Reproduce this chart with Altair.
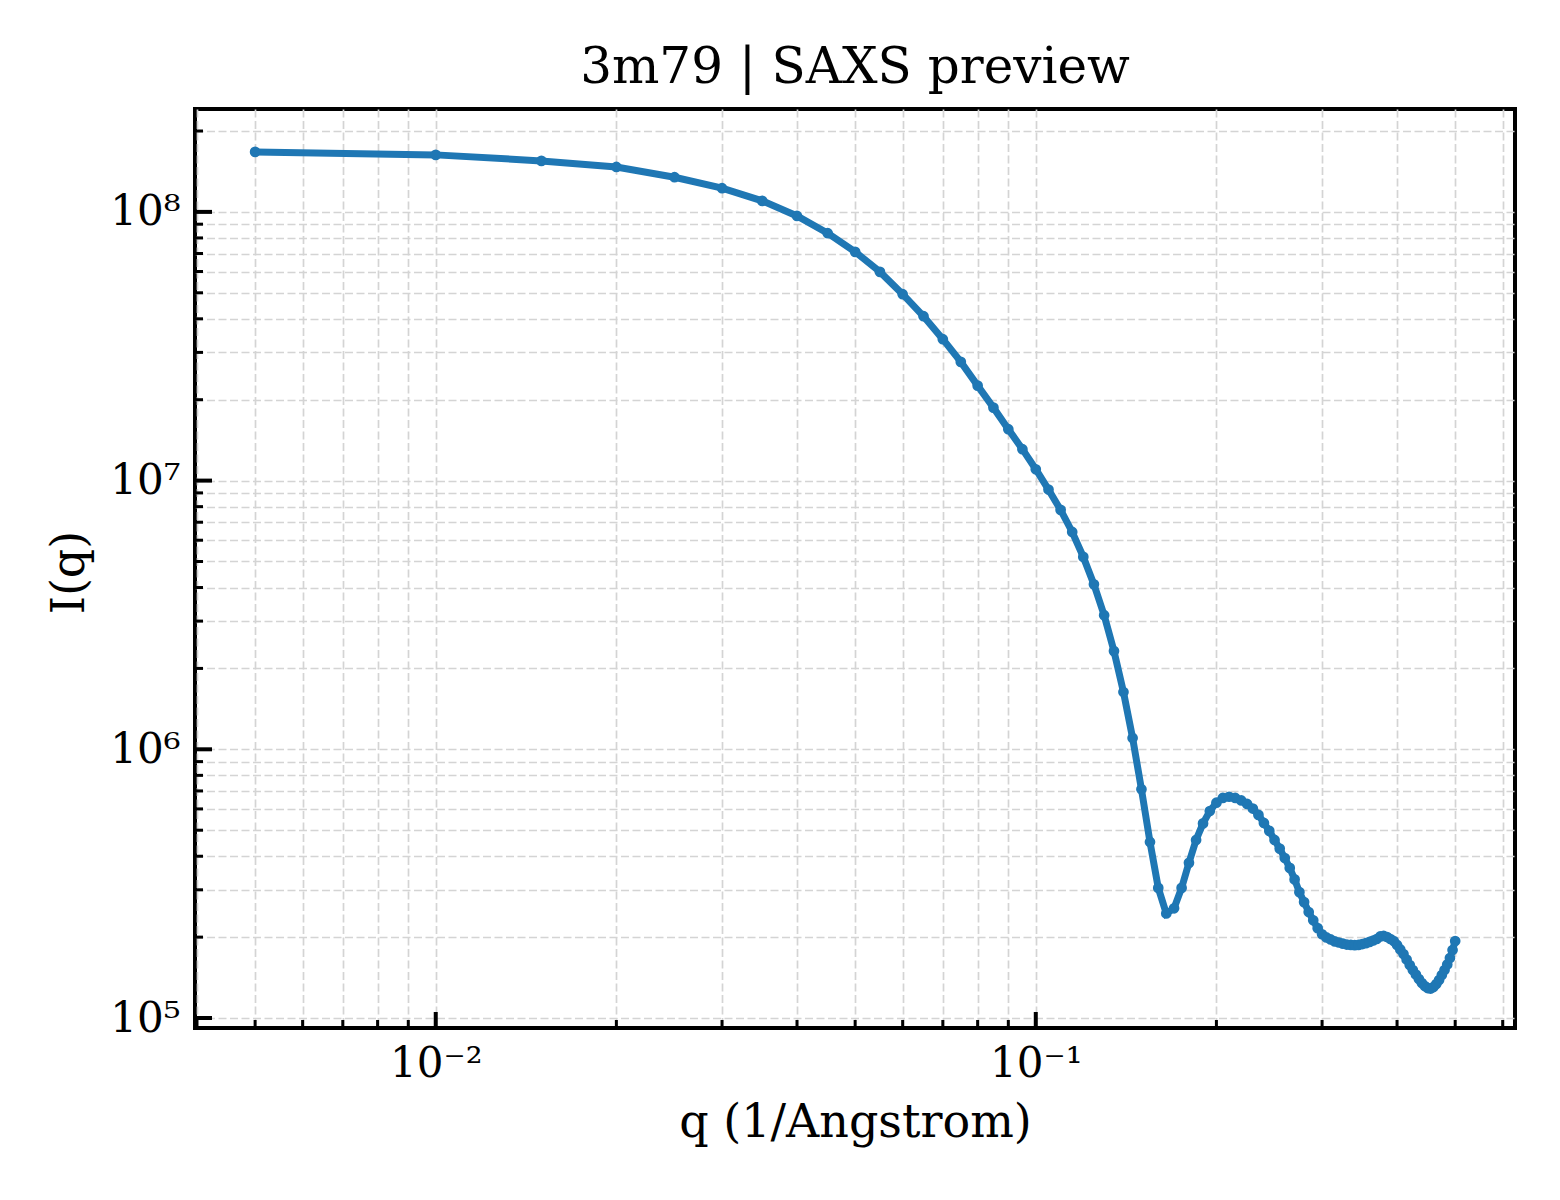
import altair as alt
import pandas as pd

# q grid (1/Angstrom)
q_plateau = [0.005, 0.01, 0.015, 0.02, 0.025, 0.03, 0.035, 0.04, 0.045, 0.05]
q_decay = [0.055, 0.06, 0.065, 0.07, 0.075, 0.08, 0.085, 0.09, 0.095, 0.1,
           0.105, 0.11, 0.115, 0.12, 0.125, 0.13, 0.135, 0.14, 0.145, 0.15,
           0.155, 0.16]
q_ring = [0.165, 0.17, 0.175, 0.18, 0.185, 0.19, 0.195, 0.2, 0.205, 0.21,
          0.215, 0.22, 0.225, 0.23, 0.235, 0.24, 0.245, 0.25, 0.255, 0.26,
          0.265, 0.27, 0.275, 0.28, 0.285, 0.29, 0.295, 0.3]
q_tail = [0.305, 0.31, 0.315, 0.32, 0.325, 0.33, 0.335, 0.34, 0.345, 0.35,
          0.355, 0.36, 0.365, 0.37, 0.375, 0.38, 0.385, 0.39, 0.395, 0.4,
          0.405, 0.41, 0.415, 0.42, 0.425, 0.43, 0.435, 0.44, 0.445, 0.45,
          0.455, 0.46, 0.465, 0.47, 0.475, 0.48, 0.485, 0.49, 0.495, 0.5]

# I(q)
i_plateau = [1.672e8, 1.630e8, 1.548e8, 1.470e8, 1.346e8, 1.225e8, 1.099e8,
             9.66e7, 8.33e7, 7.10e7]
i_decay = [5.98e7, 4.94e7, 4.09e7, 3.36e7, 2.765e7, 2.257e7, 1.869e7, 1.553e7,
           1.309e7, 1.102e7, 9.26e6, 7.78e6, 6.44e6, 5.20e6, 4.11e6, 3.155e6,
           2.32e6, 1.634e6, 1.102e6, 7.10e5, 4.52e5, 3.05e5]
i_ring = [2.45e5, 2.56e5, 3.05e5, 3.78e5, 4.60e5, 5.30e5, 5.89e5, 6.33e5,
          6.59e5, 6.66e5, 6.59e5, 6.45e5, 6.26e5, 6.02e5, 5.70e5, 5.32e5,
          4.97e5, 4.60e5, 4.27e5, 3.94e5, 3.62e5, 3.28e5, 2.94e5, 2.70e5,
          2.48e5, 2.31e5, 2.16e5, 2.05e5]
i_tail = [1.994e5, 1.96e5, 1.927e5, 1.91e5, 1.89e5, 1.877e5, 1.87e5, 1.867e5,
          1.87e5, 1.885e5, 1.90e5, 1.92e5, 1.943e5, 1.968e5, 2.011e5, 2.020e5,
          2.002e5, 1.968e5, 1.934e5, 1.870e5, 1.799e5, 1.730e5, 1.651e5,
          1.575e5, 1.509e5, 1.452e5, 1.397e5, 1.350e5, 1.315e5, 1.293e5,
          1.287e5, 1.304e5, 1.338e5, 1.385e5, 1.445e5, 1.509e5, 1.582e5,
          1.672e5, 1.791e5, 1.934e5]

x_major = [0.01, 0.1]
x_minor = [0.004, 0.005, 0.006, 0.007, 0.008, 0.009,
           0.02, 0.03, 0.04, 0.05, 0.06, 0.07, 0.08, 0.09,
           0.2, 0.3, 0.4, 0.5, 0.6]
y_major = [1e5, 1e6, 1e7, 1e8]
y_minor = [2e5, 3e5, 4e5, 5e5, 6e5, 7e5, 8e5, 9e5,
           2e6, 3e6, 4e6, 5e6, 6e6, 7e6, 8e6, 9e6,
           2e7, 3e7, 4e7, 5e7, 6e7, 7e7, 8e7, 9e7,
           2e8]

W, H = 1320, 919
FONT = "DejaVu Serif"
BLUE = "#1f77b4"

df = pd.DataFrame({
    "q": q_plateau + q_decay + q_ring + q_tail,
    "I": i_plateau + i_decay + i_ring + i_tail,
})

x_enc = alt.X(
    "q:Q",
    title="q (1/Angstrom)",
    scale=alt.Scale(type="log", domain=[0.00397, 0.629], nice=False),
    axis=alt.Axis(
        values=sorted(x_major + x_minor),
        labelExpr="datum.value == 0.01 ? '10⁻²' : datum.value == 0.1 ? '10⁻¹' : ''",
        ticks=False, domain=False, grid=True,
        labelPadding=48, labelBaseline="alphabetic",
        labelFlush=False, labelOverlap=False,
        titleX=W / 2, titleY=108, titleBaseline="alphabetic",
    ),
)
y_enc = alt.Y(
    "I:Q",
    title="I(q)",
    scale=alt.Scale(type="log", domain=[9.18e4, 2.415e8], nice=False),
    axis=alt.Axis(
        values=sorted(y_major + y_minor),
        labelExpr="datum.value == 1e5 ? '10⁵' : datum.value == 1e6 ? '10⁶' : "
                  "datum.value == 1e7 ? '10⁷' : datum.value == 1e8 ? '10⁸' : ''",
        ticks=False, domain=False, grid=True,
        labelPadding=15, labelBaseline="middle",
        labelOverlap=False,
        titleX=-112, titleY=463, titleAngle=270,
        titleBaseline="alphabetic", titleAlign="center",
    ),
)

line = alt.Chart(df).mark_line(color=BLUE, strokeWidth=7).encode(x=x_enc, y=y_enc)
dots = alt.Chart(df).mark_circle(color=BLUE, size=115, opacity=1).encode(x=x_enc, y=y_enc)

# inward ticks, like matplotlib direction="in"
xt_major = alt.Chart(pd.DataFrame({"q": x_major})).mark_rule(
    color="black", strokeWidth=4
).encode(x=x_enc, y=alt.value(H), y2=alt.value(H - 16))
xt_minor = alt.Chart(pd.DataFrame({"q": x_minor})).mark_rule(
    color="black", strokeWidth=3
).encode(x=x_enc, y=alt.value(H), y2=alt.value(H - 8))
yt_major = alt.Chart(pd.DataFrame({"I": y_major})).mark_rule(
    color="black", strokeWidth=4
).encode(y=y_enc, x=alt.value(0), x2=alt.value(17))
yt_minor = alt.Chart(pd.DataFrame({"I": y_minor})).mark_rule(
    color="black", strokeWidth=3
).encode(y=y_enc, x=alt.value(0), x2=alt.value(8))

chart = alt.layer(
    line, dots, xt_major, xt_minor, yt_major, yt_minor
).properties(
    width=W,
    height=H,
    title="3m79 | SAXS preview",
    autosize=alt.AutoSizeParams(type="none"),
    padding={"left": 187, "top": 101, "right": 30, "bottom": 150},
).configure_view(
    stroke="black", strokeWidth=4
).configure_axis(
    labelFont=FONT, labelFontSize=42, labelColor="black",
    titleFont=FONT, titleFontSize=46, titleFontWeight="normal", titleColor="black",
    gridColor="#d4d4d4", gridDash=[8, 3.5], gridWidth=1.7, gridOpacity=1,
).configure_title(
    font=FONT, fontSize=50, fontWeight="normal", color="black",
    anchor="middle", offset=16, baseline="alphabetic",
)

chart.save("out.html", embed_options={"renderer": "svg", "actions": False})
